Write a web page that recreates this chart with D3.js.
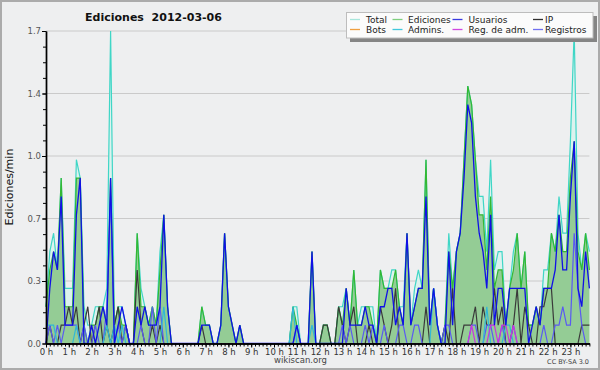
<!DOCTYPE html>
<html><head><meta charset="utf-8">
<script src="https://cdn.jsdelivr.net/npm/d3@7/dist/d3.min.js"></script>
<style>
body{margin:0;background:#eeeff0;}
svg{display:block;}
text{font-family:"DejaVu Sans",sans-serif;}
</style>
</head><body>
<svg id="chart" width="600" height="370"></svg>
<script>
// ---------- data (values per 10 minutes, edits/min) ----------
const hours = d3.range(24);
const hourLabels = hours.map(h => h + " h");
const yTickValues = [0, 0.34, 0.68, 1.02, 1.36, 1.7];
const yTickLabels = ["0.0", "0.3", "0.7", "1.0", "1.4", "1.7"];

const total = [
  .2,.5,.6,.4,.9,.3,  .3,.3,1.0,.9,.2,.1,  .1,.2,.2,.2,.3,1.7,  .1,.2,.2,.1,0,0,
  .6,.3,.2,.1,.2,.1,  .5,.7,.2,0,0,0,      0,0,0,0,0,.2,        .1,.1,0,0,.1,.6,
  .2,.1,0,.1,0,0,     0,0,0,0,0,0,         0,0,0,0,0,.2,        .2,0,0,0,.5,0,
  0,.1,.1,0,0,.2,     .2,.3,.1,.4,.1,.2,   .2,.2,.2,0,.4,.3,    .3,.4,.4,.2,.2,.6,
  .1,.3,.4,.3,1.0,.1, .3,.1,0,.1,.6,.3,    .5,.6,1.0,1.4,1.3,1.0, .8,.8,.5,1.0,.4,.5,
  .5,.1,.3,.5,.6,.3,  .5,.1,.1,.2,.1,.4,   .4,.6,.5,.8,.6,.6,   1.1,1.7,.6,.4,.6,.5
];
const ediciones = [
  .2,.4,.5,.4,.9,.2,  .2,.2,.9,.9,.1,0,    .1,.1,.2,.2,.1,.9,   .1,.2,.1,.1,0,0,
  .6,.2,.2,.1,.2,.1,  .4,.7,.2,0,0,0,      0,0,0,0,0,.2,        .1,.1,0,0,.1,.6,
  .2,.1,0,.1,0,0,     0,0,0,0,0,0,         0,0,0,0,0,.2,        .1,0,0,0,.5,0,
  0,.1,.1,0,0,.2,     .1,.3,.1,.4,.1,.1,   .2,.2,.1,0,.4,.3,    .3,.3,.4,.2,.1,.6,
  .1,.2,.3,.3,1.0,.1, .3,.1,0,.1,.5,.3,    .5,.6,1.0,1.4,1.3,1.0, .7,.7,.4,.8,.3,.4,
  .4,.1,.3,.4,.6,.3,  .5,.1,.1,.2,.1,.3,   .3,.6,.5,.7,.5,.5,   .9,1.1,.5,.4,.6,.4
];
const usuarios = [
  0,.3,.5,.4,.8,.1,   .1,.1,.7,.9,0,0,     .1,0,.1,.2,.1,.9,    0,.1,.2,.1,0,0,
  .2,.1,.2,.1,.1,.1,  .2,.7,.2,0,0,0,      0,0,0,0,0,.1,        .1,.1,0,0,.1,.6,
  .2,.1,0,.1,0,0,     0,0,0,0,0,0,         0,0,0,0,0,0,         .1,0,0,0,.5,0,
  0,0,0,0,0,0,        0,.3,.1,.1,.1,.1,    .2,.1,.1,0,.2,.2,    .3,.3,.1,.2,.1,.6,
  .1,.2,.3,.3,.8,.1,  .3,.1,0,0,.5,.1,     .5,.6,.9,1.3,1.2,.8, .6,.5,.3,.7,.1,.3,
  .3,.1,.3,.3,.3,.3,  .3,0,.1,.2,.1,.3,    .3,.3,.4,.7,.4,.4,   .8,1.1,.3,.2,.5,.3
];
const ip = [
  0,.1,0,0,.1,.1,     .2,.1,.2,0,.1,.2,    0,.1,.2,0,.1,0,      .1,.2,0,.1,0,0,
  .4,.1,0,0,.1,0,     .1,0,0,0,0,0,        0,0,0,0,0,.1,        0,0,0,0,0,0,
  0,0,0,0,0,0,        0,0,0,0,0,0,         0,0,0,0,0,0,         0,0,0,0,0,0,
  0,.1,.1,0,0,.2,     .1,0,.1,.2,0,0,      0,.1,0,0,.2,.1,      0,.1,.3,0,0,0,
  0,0,0,0,.2,0,       0,0,0,.1,0,.3,       0,0,.1,.1,.1,.2,     0,.2,.1,.1,.3,.1,
  .2,0,0,.1,.3,0,     .2,.1,0,0,.2,.2,     .3,.3,0,0,0,0,       0,0,0,.1,.1,.1
];
const bots = d3.range(144).map(() => 0);
const admins = [
  .1,.1,.1,0,0,0,     0,0,.1,0,0,0,        0,0,0,0,.1,0,        .1,0,.1,0,0,0,
  0,0,0,0,0,0,        0,.2,0,0,0,0,        0,0,0,0,0,0,         0,0,0,0,0,0,
  0,0,0,0,0,0,        0,0,0,0,0,0,         0,0,0,0,0,.2,        0,0,0,0,.1,0,
  0,0,0,0,0,0,        0,0,0,0,0,0,         0,0,0,0,0,0,         0,0,0,0,0,0,
  0,0,0,0,0,0,        .3,.1,0,0,0,0,       0,0,0,0,0,0,         0,0,.2,0,0,0,
  0,.1,.1,0,0,0,      0,0,0,0,0,0,         0,0,0,0,0,0,         0,0,0,0,0,0
];
const regAdm = [
  0,0,0,0,0,0,        0,0,0,0,0,0,         0,0,0,0,0,0,         0,0,0,0,0,0,
  0,0,0,0,0,0,        0,0,0,0,0,0,         0,0,0,0,0,0,         0,0,0,0,0,0,
  0,0,0,0,0,0,        0,0,0,0,0,0,         0,0,0,0,0,0,         0,0,0,0,0,0,
  0,0,0,0,0,0,        0,0,0,0,0,0,         0,0,0,0,0,0,         0,0,0,0,0,0,
  0,0,0,0,0,0,        0,0,0,0,0,0,         0,0,0,0,.1,0,        0,0,0,.1,.1,0,
  .1,.1,0,.1,0,0,     0,0,0,0,0,0,         0,0,0,0,0,0,         0,0,0,0,0,0
];
const registros = [
  0,.1,0,.1,0,.1,     .1,.1,.1,0,.1,0,     0,.1,0,0,.2,.8,      0,.1,0,.1,0,0,
  0,.1,0,0,.2,0,      .2,0,0,0,0,0,        0,0,0,0,0,0,         0,0,0,0,0,0,
  0,0,0,0,0,0,        0,0,0,0,0,0,         0,0,0,0,0,0,         .1,0,0,0,0,0,
  0,0,0,0,0,0,        .1,0,.1,0,0,0,       .1,0,.1,0,0,.1,      0,0,0,.1,.1,0,
  0,.1,.1,0,0,0,      0,0,0,.1,.1,0,       0,0,0,0,.1,.1,       0,0,.1,.1,0,0,
  .1,0,0,.1,0,0,      0,0,0,0,0,.1,        0,0,.1,.1,.2,.1,     .1,.6,.3,.1,0,0
];

const legendNames = ["Total","Ediciones","Usuarios","IP","Bots","Admins.","Reg. de adm.","Registros"];
const legendColors = ["#a8e6dc","#7fcf7f","#3a3ae0","#303030","#f0a040","#40c8dc","#d048e0","#7070f0"];

// ---------- drawing ----------
const svg = d3.select("#chart");
svg.append("rect").attr("x",1).attr("y",1).attr("width",598).attr("height",368)
  .attr("fill","#eeeff0").attr("stroke","#ababab").attr("stroke-width",2);

const x = d3.scaleLinear().domain([0, 143]).range([46, 589.4]);
const y = d3.scaleLinear().domain([0, 1.7]).range([343.5, 31]);

// grid
svg.append("g").selectAll("line").data(yTickValues.slice(1)).join("line")
  .attr("x1", x(0)).attr("x2", x(143))
  .attr("y1", d => y(d)).attr("y2", d => y(d))
  .attr("stroke", "#cacaca").attr("stroke-width", 1);

const area = d3.area().x((d,i) => x(i)).y0(y(0)).y1(d => y(d));
const line = d3.line().x((d,i) => x(i)).y(d => y(d));

svg.append("path").datum(total).attr("d", area).attr("fill", "#dcf2ee");
svg.append("path").datum(ediciones).attr("d", area).attr("fill", "#8fc98f").attr("fill-opacity", 0.95);

const lines = [
  [total, "#3fd6c6", 1.2],
  [ediciones, "#33b833", 1.2],
  [ip, "#3a3a3a", 1.2],
  [registros, "#5a5af2", 1.2],
  [admins, "#2fb8d8", 1.2],
  [regAdm, "#cc33dd", 1.2],
  [usuarios, "#1010e6", 1.3]
];
lines.forEach(([data, color, w]) => {
  svg.append("path").datum(data).attr("d", line)
    .attr("fill", "none").attr("stroke", color).attr("stroke-width", w)
    .attr("stroke-linejoin", "miter");
});

// axes
const yMinor = svg.append("g").attr("transform", "translate(46,0)")
  .call(d3.axisLeft(y).tickValues(d3.range(0, 1.7001, 0.085)).tickSize(3).tickSizeOuter(0).tickFormat(""));
const yAxis = svg.append("g").attr("transform", "translate(46,0)")
  .call(d3.axisLeft(y).tickValues(yTickValues).tickSize(4).tickSizeOuter(0)
    .tickFormat((d,i) => yTickLabels[i]));
yAxis.selectAll("text").attr("font-size", 8.5).attr("fill", "#555").attr("x", -5)
  .attr("font-family", "DejaVu Sans");
svg.selectAll(".domain").attr("stroke", "#000").attr("stroke-width", 1.3);

const xMinor = svg.append("g").attr("transform", "translate(0,343.5)")
  .call(d3.axisBottom(x).tickValues(d3.range(0, 144)).tickSize(3).tickSizeOuter(0).tickFormat(""));
const xAxis = svg.append("g").attr("transform", "translate(0,343.5)")
  .call(d3.axisBottom(x).tickValues(hours.map(h => h * 6)).tickSize(4).tickSizeOuter(0)
    .tickFormat((d,i) => hourLabels[i]));
xAxis.selectAll("text").attr("font-size", 8.5).attr("fill", "#333").attr("y", 5)
  .attr("font-family", "DejaVu Sans");
svg.selectAll(".domain").attr("stroke", "#000").attr("stroke-width", 1.4);
svg.selectAll(".tick line").attr("stroke", "#000");

// titles
svg.append("text").attr("x", 153.5).attr("y", 21).attr("text-anchor", "middle")
  .attr("font-size", 11).attr("font-weight", "bold").attr("fill", "#111")
  .style("white-space", "pre").text("Ediciones  2012-03-06");
svg.append("text").attr("transform", "translate(13,187) rotate(-90)")
  .attr("text-anchor", "middle").attr("font-size", 11).attr("fill", "#111")
  .text("Ediciones/min");
svg.append("text").attr("x", 300.5).attr("y", 363).attr("text-anchor", "middle")
  .attr("font-size", 8.5).attr("fill", "#444").text("wikiscan.org");
svg.append("text").attr("x", 589).attr("y", 364).attr("text-anchor", "end")
  .attr("font-size", 6.5).attr("fill", "#444").text("CC BY-SA 3.0");

// legend
const lg = svg.append("g");
lg.append("rect").attr("x", 350).attr("y", 16).attr("width", 247).attr("height", 26).attr("fill", "#858585");
lg.append("rect").attr("x", 346.5).attr("y", 12.5).attr("width", 246.5).attr("height", 25.5)
  .attr("fill", "#fbfbfb").attr("stroke", "#bdbdbd").attr("stroke-width", 1);
const colX = [350, 392.5, 452.5, 533];
const textX = [366, 408, 468.5, 545];
legendNames.forEach((name, i) => {
  const col = i % 4, row = Math.floor(i / 4);
  const yy = 19.5 + row * 10;
  lg.append("line").attr("x1", colX[col]).attr("x2", colX[col] + 10)
    .attr("y1", yy).attr("y2", yy).attr("stroke", legendColors[i]).attr("stroke-width", 1.3);
  lg.append("text").attr("x", textX[col]).attr("y", yy + 3.3)
    .attr("font-size", 9).attr("fill", "#222").text(name);
});
</script>
</body></html>
